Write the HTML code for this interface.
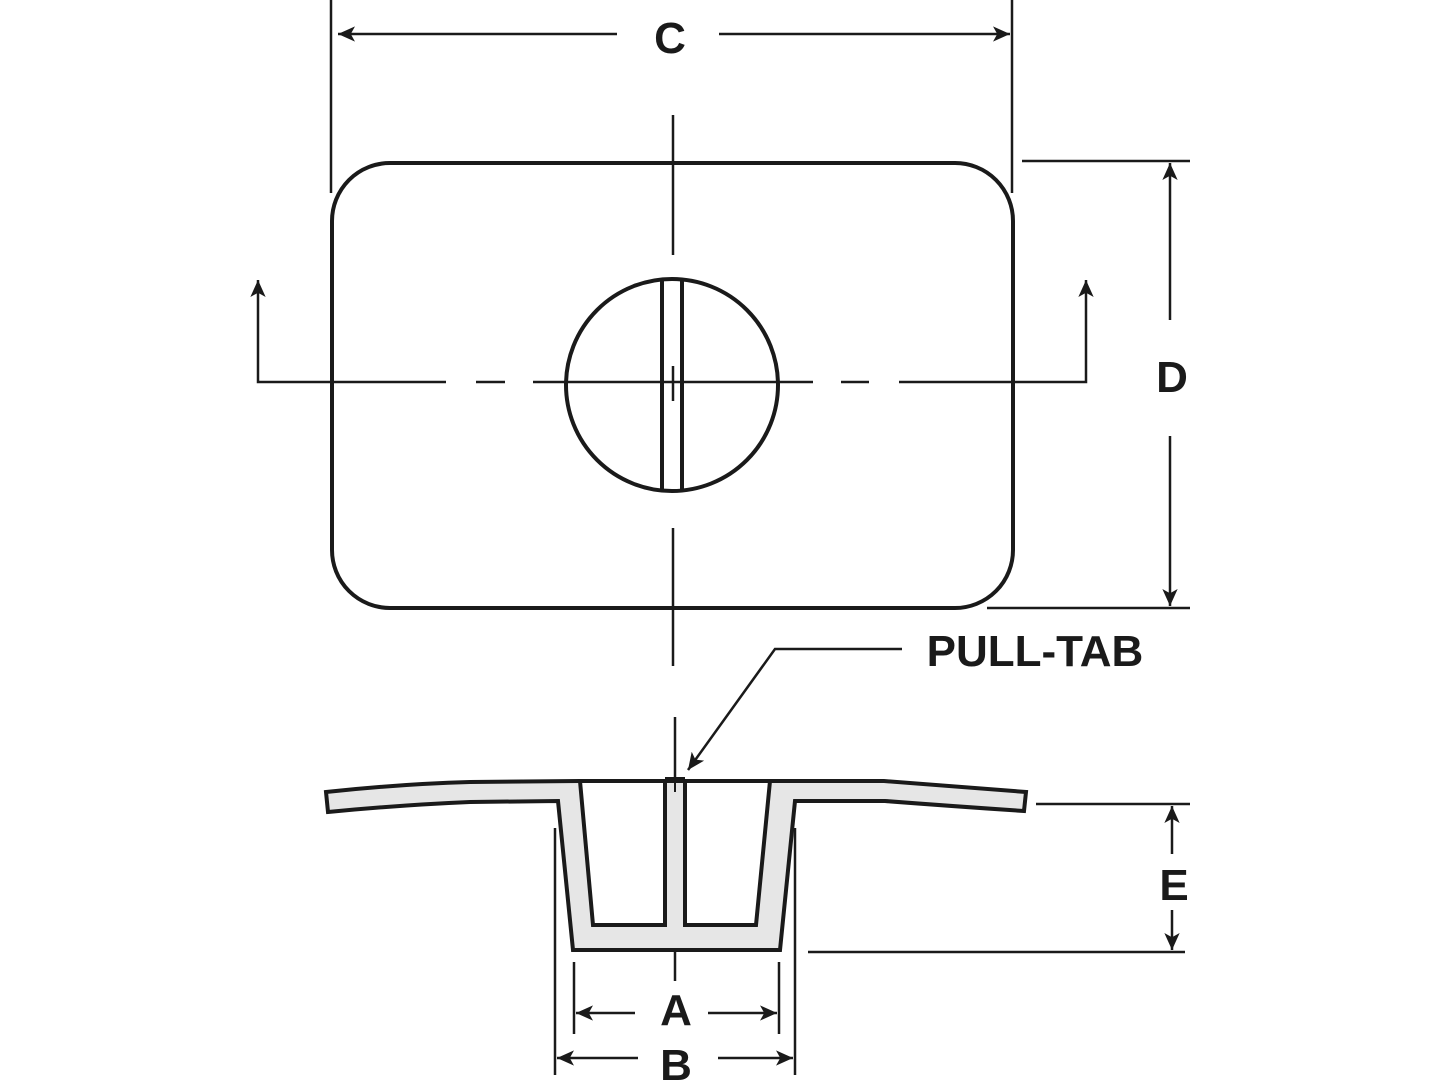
<!DOCTYPE html>
<html><head><meta charset="utf-8"><style>
html,body{margin:0;padding:0;background:#fff;}
svg{display:block;}
text{font-family:"Liberation Sans",sans-serif;font-weight:bold;font-size:44px;fill:#1a1a1a;text-anchor:middle;}
</style></head><body>
<svg width="1440" height="1080" viewBox="0 0 1440 1080" xmlns="http://www.w3.org/2000/svg">
<defs>
<marker id="ah" viewBox="0 0 10 10" refX="10" refY="5" markerWidth="17" markerHeight="17" markerUnits="userSpaceOnUse" orient="auto">
<path d="M0,0.5 L10,5 L0,9.5 L2.5,5 Z" fill="#1a1a1a"/>
</marker>
</defs>
<g stroke="#1a1a1a" stroke-width="2.5" fill="none">
<line x1="331" y1="0" x2="331" y2="193"/>
<line x1="1012" y1="0" x2="1012" y2="193"/>
<line x1="617" y1="34" x2="338" y2="34" marker-end="url(#ah)"/>
<line x1="719" y1="34" x2="1010" y2="34" marker-end="url(#ah)"/>
<line x1="1022" y1="161" x2="1190" y2="161"/>
<line x1="987" y1="608" x2="1190" y2="608"/>
<line x1="1170" y1="320" x2="1170" y2="163" marker-end="url(#ah)"/>
<line x1="1170" y1="436" x2="1170" y2="606" marker-end="url(#ah)"/>
<polyline points="446,382 258,382 258,280" marker-end="url(#ah)"/>
<line x1="476" y1="382" x2="505" y2="382"/>
<line x1="533" y1="382" x2="813" y2="382"/>
<line x1="841" y1="382" x2="869" y2="382"/>
<polyline points="899,382 1086,382 1086,280" marker-end="url(#ah)"/>
<line x1="673" y1="115" x2="673" y2="255"/>
<line x1="673" y1="366" x2="673" y2="401"/>
<line x1="673" y1="528" x2="673" y2="666"/>
<line x1="675" y1="717" x2="675" y2="792"/>
<line x1="675" y1="845" x2="675" y2="867"/>
<line x1="675" y1="903" x2="675" y2="981"/>
<polyline points="902,649 775,649 688,770" marker-end="url(#ah)"/>
<line x1="1036" y1="804" x2="1190" y2="804"/>
<line x1="808" y1="952" x2="1185" y2="952"/>
<line x1="1172" y1="854" x2="1172" y2="806" marker-end="url(#ah)"/>
<line x1="1172" y1="910" x2="1172" y2="950" marker-end="url(#ah)"/>
<line x1="574" y1="962" x2="574" y2="1034"/>
<line x1="779" y1="962" x2="779" y2="1034"/>
<line x1="635" y1="1013" x2="576" y2="1013" marker-end="url(#ah)"/>
<line x1="708" y1="1013" x2="777" y2="1013" marker-end="url(#ah)"/>
<line x1="555" y1="828" x2="555" y2="1075"/>
<line x1="795" y1="828" x2="795" y2="1075"/>
<line x1="638" y1="1058" x2="557" y2="1058" marker-end="url(#ah)"/>
<line x1="718" y1="1058" x2="793" y2="1058" marker-end="url(#ah)"/>
</g>
<g stroke="#1a1a1a" stroke-width="4" fill="none">
<rect x="332" y="163" width="681" height="445" rx="58" ry="58"/>
<circle cx="672" cy="385" r="106"/>
<line x1="662" y1="281" x2="662" y2="490"/>
<line x1="682" y1="281" x2="682" y2="490"/>
</g>
<g stroke="#1a1a1a" stroke-width="4" stroke-linejoin="miter">
<path d="M326,792 Q400,784 470,782 L580,781 L884,781 Q950,786 1026,792 L1024,811 Q950,806 885,801 L795,801 L780,950 L573,950 L558,801 L470,802 Q400,805 328,812 Z" fill="#e6e6e6"/>
<path d="M580,781 L593,925 L665,925 L665,781 Z" fill="#fff"/>
<path d="M685,781 L685,925 L756,925 L770,781 Z" fill="#fff"/>
<line x1="665" y1="779" x2="685" y2="779"/>
</g>
<line x1="675" y1="781" x2="675" y2="792" stroke="#1a1a1a" stroke-width="2"/>
<text x="670" y="53">C</text>
<text x="1172" y="392">D</text>
<text x="1035" y="666">PULL-TAB</text>
<text x="1174" y="900">E</text>
<text x="676" y="1025">A</text>
<text x="676" y="1080">B</text>
</svg>
</body></html>
